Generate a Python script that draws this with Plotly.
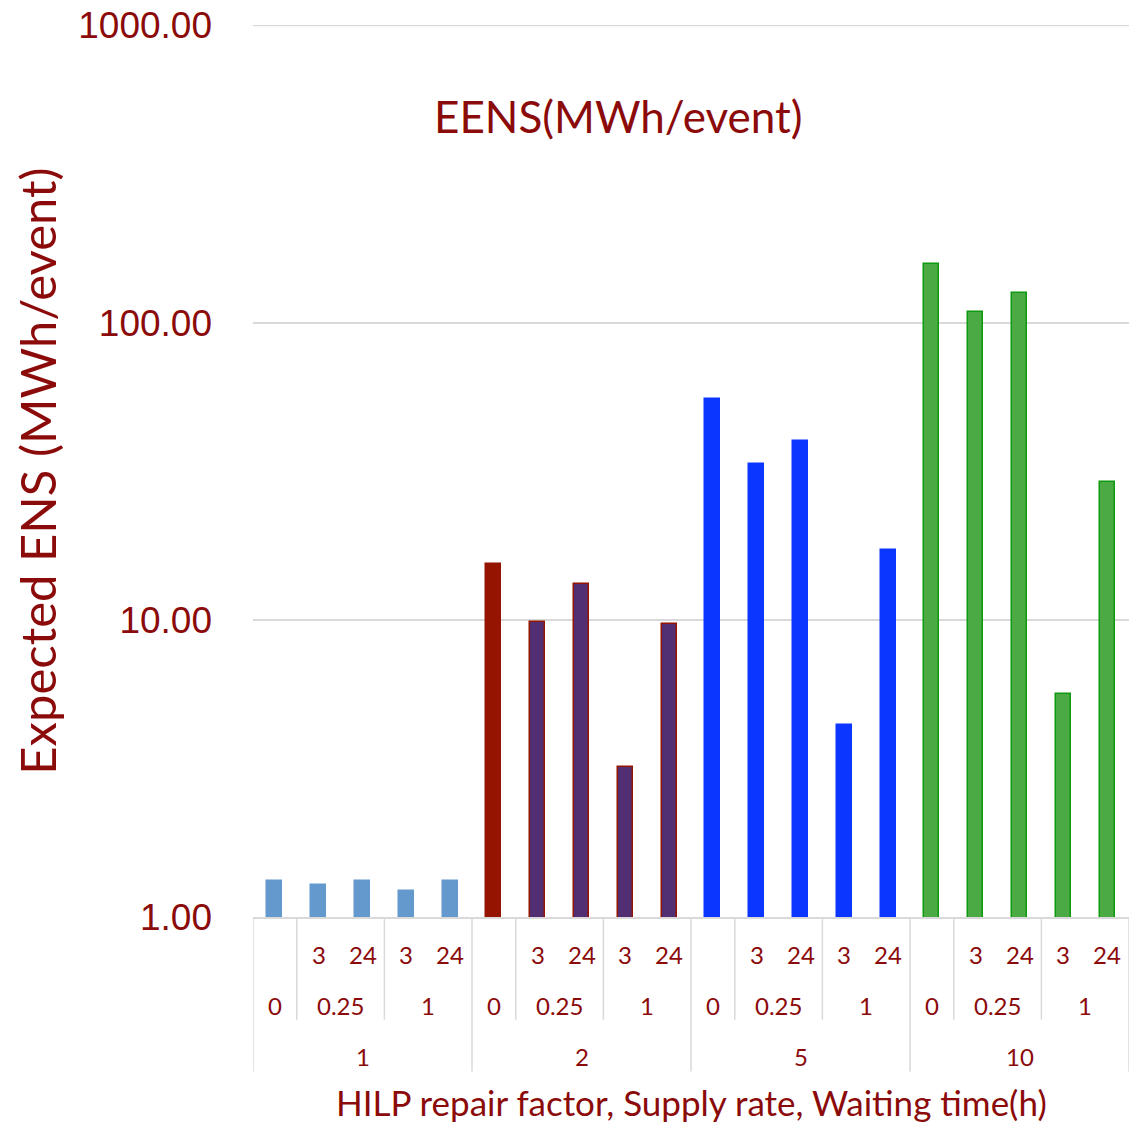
import plotly.graph_objects as go

repair_factors = ["1", "2", "5", "10"]
supply_rates = ["0", "0.25", "0.25", "1", "1"]
waiting_times = ["", "3", "24", "3", "24"]

eens_rf1 = [1.32, 1.28, 1.32, 1.22, 1.32]
eens_rf2 = [15.4, 9.8, 13.2, 3.19, 9.7]
eens_rf5 = [55.2, 33.4, 39.9, 4.44, 17.2]
eens_rf10 = [158, 109, 126, 5.64, 29.0]

y_ticks = [1, 10, 100, 1000]

fill_colors = {
    "1": ["#6399CD"] * 5,
    "2": ["#951400", "#522E72", "#522E72", "#522E72", "#522E72"],
    "5": ["#0A36FF"] * 5,
    "10": ["#4CAA45"] * 5,
}
line_colors = {
    "1": ["#6399CD"] * 5,
    "2": ["#951400"] * 5,
    "5": ["#0A36FF"] * 5,
    "10": ["#0E9A0E"] * 5,
}

values = eens_rf1 + eens_rf2 + eens_rf5 + eens_rf10
n = len(values)
xs = list(range(n))
fills = sum((fill_colors[r] for r in repair_factors), [])
lines = sum((line_colors[r] for r in repair_factors), [])

RED = "#8B0A0A"
FONT = "Lato"

fig = go.Figure()
fig.add_trace(go.Bar(
    x=xs, y=values, width=0.34,
    marker=dict(color=fills, line=dict(color=lines, width=1.5)),
    showlegend=False,
))

plot_h = 895.0
def py(px_below):
    return -px_below / plot_h

annotations = []
shapes = []
grey = "#D9D9D9"

def lab(x, y, text, size=24, xref="x"):
    return dict(x=x, y=y, xref=xref, yref="paper", text=text, showarrow=False,
                xanchor="center", yanchor="middle",
                font=dict(size=size, color=RED, family=FONT))

for gi, rf in enumerate(repair_factors):
    base = gi * 5
    for j in range(5):
        if waiting_times[j]:
            annotations.append(lab(base + j, py(38), waiting_times[j]))
    annotations.append(lab(base, py(89), supply_rates[0]))
    annotations.append(lab(base + 1.5, py(89), supply_rates[1]))
    annotations.append(lab(base + 3.5, py(89), supply_rates[3]))
    annotations.append(lab(base + 2, py(140), rf))
    shapes.append(dict(type="line", xref="x", yref="paper", x0=base - 0.5, x1=base - 0.5,
                       y0=0, y1=py(155), line=dict(color=grey, width=1.5)))
    for k in (0.5, 2.5):
        shapes.append(dict(type="line", xref="x", yref="paper", x0=base + k, x1=base + k,
                           y0=0, y1=py(103), line=dict(color=grey, width=1.5)))
shapes.append(dict(type="line", xref="x", yref="paper", x0=n - 0.5, x1=n - 0.5,
                   y0=0, y1=py(155), line=dict(color=grey, width=1.5)))
# top gridline (at the edge of the range)
shapes.append(dict(type="line", xref="paper", yref="y", x0=0, x1=1,
                   y0=y_ticks[-1], y1=y_ticks[-1], line=dict(color=grey, width=1.5),
                   layer="below"))

annotations.append(lab(0.5, py(186), "HILP repair factor, Supply rate, Waiting time(h)",
                       size=35, xref="paper"))
annotations.append(lab(0.417, 1 - (113 - 22) / plot_h, "EENS(MWh/event)",
                       size=44, xref="paper"))

fig.update_layout(
    width=1134, height=1124,
    margin=dict(l=253, r=5, t=22, b=207),
    plot_bgcolor="white", paper_bgcolor="white",
    annotations=annotations, shapes=shapes,
    bargap=0,
)
fig.update_xaxes(range=[-0.5, n - 0.5], showticklabels=False, showgrid=False,
                 zeroline=False, showline=True, linecolor=grey, linewidth=1.5, ticks="")
fig.update_yaxes(type="log", range=[0, 3.0015], tickvals=y_ticks, tickformat=".2f",
                 showgrid=True, gridcolor=grey, gridwidth=1.5,
                 showline=False, zeroline=False, ticks="",
                 ticklabelstandoff=40,
                 tickfont=dict(size=37, color=RED, family="Liberation Sans"),
                 title=dict(text="Expected ENS (MWh/event)", standoff=6,
                            font=dict(size=49, color=RED, family=FONT)))

fig.write_html("out.html")
